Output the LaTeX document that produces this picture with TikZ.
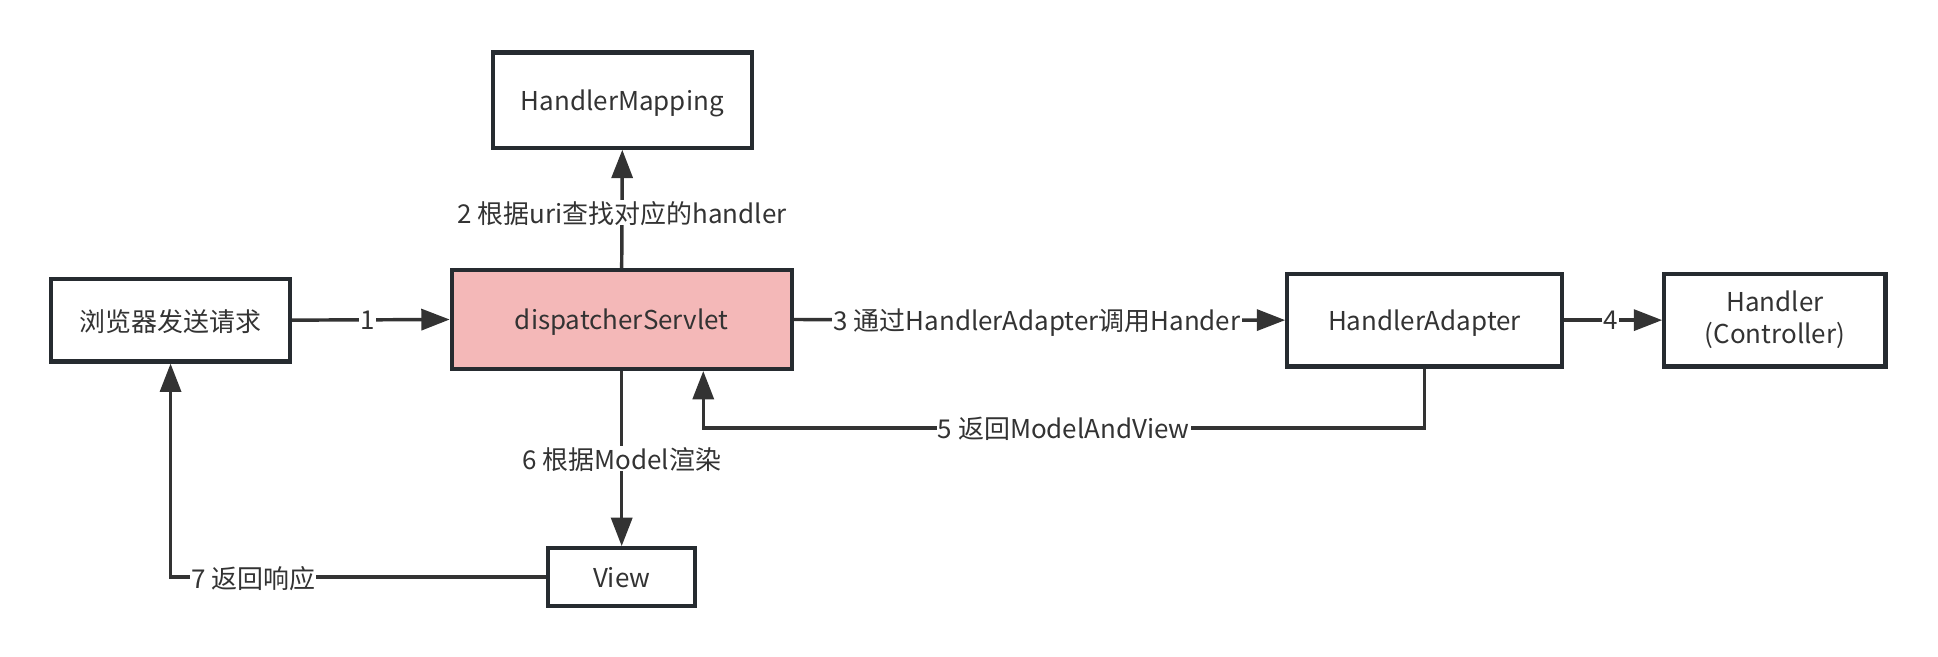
\documentclass[tikz,border=0pt]{standalone}
\usepackage{fontspec}
\setmainfont{Noto Sans CJK SC}
\usetikzlibrary{arrows.meta}
\definecolor{boxline}{HTML}{262B30}
\definecolor{conn}{HTML}{333333}
\definecolor{pinkfill}{HTML}{F4B8B8}
\begin{document}
\begin{tikzpicture}[x=1pt,y=-1pt,
 box/.style={draw=boxline, line width=3.3pt, fill=white, inner sep=0pt, text=conn,
   font=\fontsize{21}{26}\selectfont, align=center},
 onebox/.style={box, text depth=0pt},
 conn/.style={draw=conn, line width=2.8pt, -{Triangle[length=23pt,width=17pt]}},
 lab/.style={fill=white, inner sep=1pt, text=conn, text depth=0pt, font=\fontsize{21}{25}\selectfont}]
\useasboundingbox (0,0) rectangle (1568,531);
\node[onebox, minimum width=210pt, minimum height=77pt] (hm) at (503.5,81) {HandlerMapping};
\node[onebox, minimum width=193pt, minimum height=67pt] (br) at (138,259) {浏览器发送请求};
\node[onebox, fill=pinkfill, minimum width=275pt, minimum height=80pt] (ds) at (503,258.5) {dispatcherServlet};
\node[onebox, minimum width=222pt, minimum height=75pt] (ha) at (1152.5,259) {HandlerAdapter};
\node[box, minimum width=179pt, minimum height=75pt] (hd) at (1436,259) {Handler\\(Controller)};
\node[onebox, minimum width=119pt, minimum height=47pt] (vw) at (503,467) {View};

\draw[conn] (br.east) -- node[lab, pos=0.48]{1} (ds.west);
\draw[conn] (ds.north) -- node[lab, pos=0.47]{2 根据uri查找对应的handler} (hm.south);
\draw[conn] (ds.east) -- node[lab, pos=0.495]{3 通过HandlerAdapter调用Hander} (ha.west);
\draw[conn] (ha.east) -- node[lab, pos=0.475]{4} (hd.west);
\draw[conn] (ha.south) -- ++(0,48) -| node[lab, pos=0.25]{5 返回ModelAndView} ([xshift=66pt]ds.south);
\draw[conn] (ds.south) -- node[lab, pos=0.5]{6 根据Model渲染} (vw.north);
\draw[conn] (vw.west) -| node[lab, pos=0.39]{7 返回响应} (br.south);
\end{tikzpicture}
\end{document}
